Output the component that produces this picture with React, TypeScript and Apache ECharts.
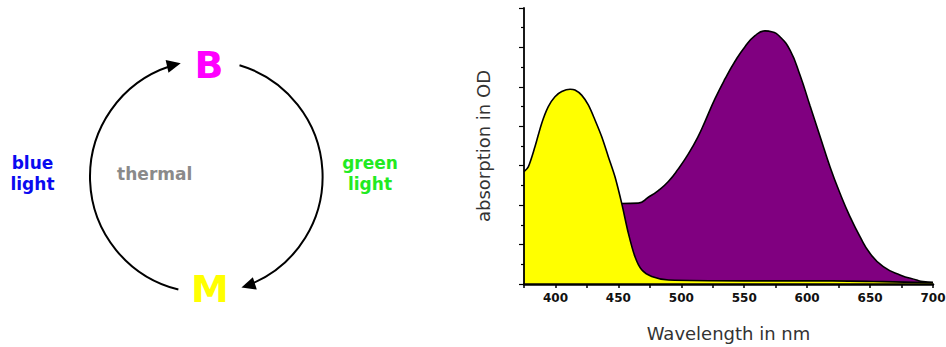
import React, { useEffect, useRef } from "react";
import * as echarts from "echarts";

// Yellow curve: M form, wavelength in nm, absorption in OD (axis units)
const mWavelength = [375, 378.4, 383.7, 389.1, 394.3, 399.6, 405, 411.6, 415.5, 420.8, 426.1, 431.4, 436.7, 442, 447.3, 452.6, 457.9, 463.2, 468.5, 476.5, 490, 550, 620, 660, 700];
const mAbsorption = [2.85, 2.97, 3.48, 4.08, 4.5, 4.75, 4.88, 4.94, 4.92, 4.79, 4.54, 4.16, 3.74, 3.23, 2.72, 2.05, 1.29, 0.69, 0.36, 0.19, 0.1, 0.08, 0.08, 0.06, 0.03];

// Purple curve: B form
const bWavelength = [448, 452.6, 465.8, 473.8, 481.7, 489.7, 497.6, 505.6, 513.5, 518.8, 526.8, 534.7, 542.7, 550.6, 558.6, 566.5, 571.8, 578.4, 586.4, 594.3, 602.3, 610.2, 618.2, 626.1, 634, 642, 649.9, 660.5, 673.8, 687, 692, 700];
const bAbsorption = [2.04, 2.04, 2.05, 2.2, 2.37, 2.6, 2.92, 3.3, 3.75, 4.12, 4.7, 5.2, 5.65, 6.02, 6.3, 6.42, 6.4, 6.27, 5.93, 5.3, 4.52, 3.75, 2.97, 2.3, 1.71, 1.2, 0.78, 0.44, 0.23, 0.1, 0.06, 0.04];

const xLabelValues = [400, 450, 500, 550, 600, 650, 700];

// Photocycle diagram labels
const cycleTexts = ["B", "M", "blue\nlight", "green\nlight", "thermal"];
const cycleColors = ["#ff00ff", "#ffff00", "#0a0af0", "#22ea22", "#8a8a8a"];

const FONT = "'DejaVu Sans', sans-serif";

function arcPoint(cx: number, cy: number, r: number, deg: number) {
  const a = (deg * Math.PI) / 180;
  return [cx + r * Math.cos(a), cy + r * Math.sin(a)];
}

function arrowHead(cx: number, cy: number, r: number, deg: number, len: number, halfW: number) {
  const a = (deg * Math.PI) / 180;
  const tip = arcPoint(cx, cy, r, deg);
  const t = [-Math.sin(a), Math.cos(a)]; // clockwise tangent
  const base = [tip[0] - len * t[0], tip[1] - len * t[1]];
  const n = [-t[1], t[0]];
  return [tip, [base[0] + halfW * n[0], base[1] + halfW * n[1]], [base[0] - halfW * n[0], base[1] - halfW * n[1]]];
}

export default function App() {
  const ref = useRef<HTMLDivElement>(null);
  useEffect(() => {
    if (!ref.current) return;
    const chart = echarts.init(ref.current, null, { renderer: "svg" });
    const cx = 206.3, cy = 176.7, r = 116.3;
    const len = 14, halfW = 6.5;
    const back = ((len * 0.8) / r) * (180 / Math.PI);
    const toRad = (d: number) => (d * Math.PI) / 180;
    const leftStart = 103.9, leftTip = 257.3;
    const rightStart = -73.4, rightTip = 72.4;

    const option: any = {
      animation: false,
      grid: { left: 524, right: 13, top: 8, bottom: 63, containLabel: false, outerBoundsMode: "none" },
      xAxis: {
        type: "value",
        min: 375,
        max: 700,
        interval: 25,
        z: 5,
        axisLine: { show: true, lineStyle: { color: "#000", width: 2.5 } },
        axisTick: { show: true, length: 4, lineStyle: { color: "#000", width: 1.5 } },
        axisLabel: {
          formatter: (v: number) => (xLabelValues.indexOf(v) >= 0 ? String(v) : ""),
          fontFamily: FONT,
          fontWeight: "bold",
          fontSize: 12,
          color: "#111",
          margin: 8,
        },
        splitLine: { show: false },
        name: "Wavelength in nm",
        nameLocation: "middle",
        nameGap: 40,
        nameTextStyle: { fontFamily: FONT, fontSize: 18, color: "#333" },
      },
      yAxis: {
        type: "value",
        min: 0,
        max: 7,
        interval: 1,
        z: 5,
        axisLine: { show: true, lineStyle: { color: "#000", width: 1.8 } },
        axisTick: { show: true, length: 5, lineStyle: { color: "#000", width: 1.2 } },
        minorTick: { show: true, splitNumber: 2, length: 3, lineStyle: { color: "#000", width: 1.2 } },
        axisLabel: { show: false },
        splitLine: { show: false },
        minorSplitLine: { show: false },
        name: "absorption in OD",
        nameLocation: "middle",
        nameGap: 32,
        nameTextStyle: { fontFamily: FONT, fontSize: 18, color: "#333" },
      },
      series: [
        {
          name: "B",
          type: "line",
          data: bWavelength.map((x, i) => [x, bAbsorption[i]]),
          smooth: 0.5,
          symbol: "none",
          lineStyle: { color: "#000", width: 1.6 },
          areaStyle: { color: "#800080", opacity: 1 },
          z: 2,
        },
        {
          name: "M",
          type: "line",
          data: mWavelength.map((x, i) => [x, mAbsorption[i]]),
          smooth: 0.3,
          symbol: "none",
          lineStyle: { color: "#000", width: 1.6 },
          areaStyle: { color: "#ffff00", opacity: 1 },
          z: 3,
        },
      ],
      graphic: [
        {
          type: "arc",
          shape: { cx, cy, r, startAngle: toRad(leftStart), endAngle: toRad(leftTip - back), clockwise: true },
          style: { stroke: "#000", lineWidth: 2, fill: null },
        },
        {
          type: "arc",
          shape: { cx, cy, r, startAngle: toRad(rightStart), endAngle: toRad(rightTip - back), clockwise: true },
          style: { stroke: "#000", lineWidth: 2, fill: null },
        },
        { type: "polygon", shape: { points: arrowHead(cx, cy, r, leftTip, len, halfW) }, style: { fill: "#000" } },
        { type: "polygon", shape: { points: arrowHead(cx, cy, r, rightTip, len, halfW) }, style: { fill: "#000" } },
        {
          type: "text", x: 209, y: 65,
          style: { text: cycleTexts[0], fill: cycleColors[0], font: `bold 38px ${FONT}`, align: "center", verticalAlign: "middle" },
        },
        {
          type: "text", x: 210, y: 289,
          style: { text: cycleTexts[1], fill: cycleColors[1], font: `bold 38px ${FONT}`, align: "center", verticalAlign: "middle" },
        },
        {
          type: "text", x: 32.5, y: 173,
          style: { text: cycleTexts[2], fill: cycleColors[2], font: `bold 17px ${FONT}`, lineHeight: 21, align: "center", verticalAlign: "middle" },
        },
        {
          type: "text", x: 370, y: 173,
          style: { text: cycleTexts[3], fill: cycleColors[3], font: `bold 17px ${FONT}`, lineHeight: 21, align: "center", verticalAlign: "middle" },
        },
        {
          type: "text", x: 154.7, y: 174,
          style: { text: cycleTexts[4], fill: cycleColors[4], font: `bold 17px ${FONT}`, align: "center", verticalAlign: "middle" },
        },
      ],
    };
    chart.setOption(option);
    return () => chart.dispose();
  }, []);
  return <div ref={ref} style={{ position: "absolute", left: 0, top: 0, width: 946, height: 347 }} />;
}
